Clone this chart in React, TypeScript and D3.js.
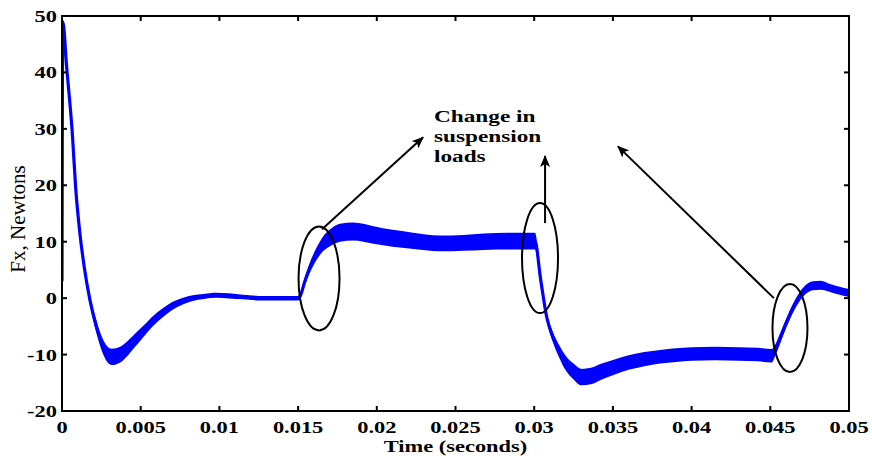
import React from 'react';
import * as d3 from 'd3';

// ---- data ----
const timeS = [
  0, 0.00005, 0.0003, 0.00066, 0.00087, 0.00114, 0.00142, 0.00178, 0.0022, 0.00262,
  0.00316, 0.0037, 0.0042, 0.0047, 0.0052, 0.0058, 0.0064, 0.007, 0.0076, 0.0083,
  0.009, 0.0098, 0.0106, 0.0115, 0.0125, 0.0135, 0.0145, 0.015, 0.01512, 0.01544,
  0.01576, 0.01618, 0.01658, 0.01703, 0.01766, 0.0185, 0.0198, 0.021, 0.0222, 0.024,
  0.0255, 0.0268, 0.0283, 0.03005, 0.0304, 0.0308, 0.0312, 0.0316, 0.032, 0.0325,
  0.033, 0.0336, 0.0343, 0.035, 0.036, 0.037, 0.038, 0.039, 0.04, 0.0415,
  0.043, 0.0442, 0.0451, 0.0453, 0.0456, 0.046, 0.0464, 0.0468, 0.0472, 0.0477,
  0.0482, 0.0488, 0.0494, 0.05,
];
const forceN = [
  3, 49, 40.8, 29, 19.5, 11.4, 5.4, -0.4, -5.2, -8.7,
  -10.4, -10.0, -8.8, -7.3, -5.8, -4.0, -2.6, -1.4, -0.6, 0,
  0.3, 0.5, 0.4, 0.2, 0, 0, 0, 0, 0.3, 3.1,
  5.5, 7.9, 9.6, 10.7, 11.6, 11.8, 11.2, 10.6, 10.2, 9.7,
  9.8, 10.0, 10.1, 10.1, 3.5, -3.4, -7, -9.5, -11.5, -13,
  -14, -13.8, -13.0, -12.3, -11.4, -10.8, -10.4, -10.1, -9.9, -9.8,
  -9.9, -10, -10.2, -9.3, -7.3, -4.5, -2, 0, 1.4, 2.2,
  2.3, 1.8, 1.3, 0.9,
];
// half-width of the noise band around the trace (Newtons)
const noiseN = [
  0, 0.3, 0.4, 0.5, 0.6, 0.7, 0.8, 0.9, 1.1, 1.3,
  1.45, 1.4, 1.3, 1.15, 1.0, 0.9, 0.8, 0.7, 0.6, 0.5,
  0.45, 0.45, 0.45, 0.4, 0.4, 0.4, 0.4, 0.4, 0.5, 0.7,
  0.9, 1.1, 1.3, 1.5, 1.6, 1.6, 1.55, 1.5, 1.45, 1.4,
  1.4, 1.45, 1.5, 1.5, 0.8, 0.7, 0.9, 1.1, 1.3, 1.4,
  1.45, 1.45, 1.4, 1.35, 1.3, 1.25, 1.2, 1.2, 1.2, 1.2,
  1.2, 1.2, 1.2, 1.0, 0.9, 0.8, 0.8, 0.8, 0.8, 0.8,
  0.8, 0.7, 0.7, 0.7,
];

const xTicks = [0, 0.005, 0.01, 0.015, 0.02, 0.025, 0.03, 0.035, 0.04, 0.045, 0.05];
const xTickLabels = ['0', '0.005', '0.01', '0.015', '0.02', '0.025', '0.03', '0.035', '0.04', '0.045', '0.05'];
const yTicks = [-20, -10, 0, 10, 20, 30, 40, 50];
const yTickLabels = ['-20', '-10', '0', '10', '20', '30', '40', '50'];

const xLabel = 'Time (seconds)';
const yLabel = 'Fx, Newtons';

// annotations in data coordinates [time, force]
const ellipseCentres: [number, number][] = [[0.01633, 3.5], [0.03037, 7.1], [0.04625, -5.3]];
const ellipseRadii: [number, number][] = [[20.5, 52], [18, 55], [17.5, 44]];
const arrowFrom: [number, number][] = [[0.01652, 12.2], [0.03069, 13.3], [0.04523, 0]];
const arrowTo: [number, number][] = [[0.02294, 28.5], [0.03069, 25.2], [0.03532, 26.9]];
const noteAnchor: [number, number] = [0.02363, 31.2];
const noteLines = ['Change in', 'suspension', 'loads'];

// ---- layout ----
const W = 872;
const H = 459;
const X0 = 62, X1 = 849, Y0 = 411, Y1 = 16;
const SERIF = '"Liberation Serif", "Times New Roman", Times, serif';
const SX = 1.32;

export default function App() {
  const x = d3.scaleLinear().domain([0, 0.05]).range([X0, X1]);
  const y = d3.scaleLinear().domain([-20, 50]).range([Y0, Y1]);

  const pts = timeS.map((t, i) => ({ t, v: forceN[i], n: noiseN[i] }));
  const line = d3.line<any>().x(d => x(d.t)).y(d => y(d.v)).curve(d3.curveMonotoneX);
  const area = d3.area<any>().x(d => x(d.t)).y0(d => y(d.v - d.n)).y1(d => y(d.v + d.n)).curve(d3.curveMonotoneX);

  return (
    <svg width={W} height={H} style={{ position: 'absolute', left: 0, top: 0, background: '#fff' }}
      fontFamily={SERIF}>
      <defs>
        <marker id="ah" viewBox="0 0 12 10" refX="11" refY="5" markerWidth="12" markerHeight="10"
          markerUnits="userSpaceOnUse" orient="auto">
          <path d="M0,0 L12,5 L0,10 L3,5 Z" fill="#000" />
        </marker>
        <clipPath id="plot">
          <rect x={X0} y={Y1} width={X1 - X0} height={Y0 - Y1} />
        </clipPath>
      </defs>
      <rect x={0} y={0} width={W} height={H} fill="#fff" />

      {/* trace */}
      <g clipPath="url(#plot)">
        <path d={area(pts) || ''} fill="#0000ff" stroke="none" />
        <path d={line(pts) || ''} fill="none" stroke="#0000ff" strokeWidth={3.2} strokeLinejoin="round" />
      </g>

      {/* axes box and ticks */}
      <rect x={X0} y={Y1} width={X1 - X0} height={Y0 - Y1} fill="none" stroke="#000" strokeWidth={2} />
      {xTicks.map((t, i) => (
        <g key={'xt' + i}>
          <line x1={x(t)} x2={x(t)} y1={Y0} y2={Y0 - 5} stroke="#000" strokeWidth={2} />
          <line x1={x(t)} x2={x(t)} y1={Y1} y2={Y1 + 5} stroke="#000" strokeWidth={2} />
          <text transform={`translate(${x(t)},${Y0 + 22}) scale(${SX},1)`} textAnchor="middle"
            fontSize={17} fontWeight="bold">{xTickLabels[i]}</text>
        </g>
      ))}
      {yTicks.map((v, i) => (
        <g key={'yt' + i}>
          <line x1={X0} x2={X0 + 5} y1={y(v)} y2={y(v)} stroke="#000" strokeWidth={2} />
          <line x1={X1} x2={X1 - 5} y1={y(v)} y2={y(v)} stroke="#000" strokeWidth={2} />
          <text transform={`translate(${X0 - 5},${y(v) + 6}) scale(${SX},1)`} textAnchor="end"
            fontSize={17} fontWeight="bold">{yTickLabels[i]}</text>
        </g>
      ))}

      <text transform={`translate(${(X0 + X1) / 2},${452}) scale(${SX},1)`} textAnchor="middle"
        fontSize={17} fontWeight="bold">{xLabel}</text>
      <text transform={`translate(${25},${219}) rotate(-90)`} textAnchor="middle" fontSize={21}>{yLabel}</text>

      {/* annotations */}
      {ellipseCentres.map((c, i) => (
        <ellipse key={'el' + i} cx={x(c[0])} cy={y(c[1])} rx={ellipseRadii[i][0]} ry={ellipseRadii[i][1]}
          fill="none" stroke="#000" strokeWidth={2} />
      ))}
      {arrowFrom.map((a, i) => (
        <line key={'ar' + i} x1={x(a[0])} y1={y(a[1])} x2={x(arrowTo[i][0])} y2={y(arrowTo[i][1])}
          stroke="#000" strokeWidth={2} markerEnd="url(#ah)" />
      ))}
      {noteLines.map((s, i) => (
        <text key={'nl' + i} transform={`translate(${x(noteAnchor[0])},${y(noteAnchor[1]) + i * 20}) scale(1.37,1)`}
          fontSize={17} fontWeight="bold">{s}</text>
      ))}
    </svg>
  );
}
